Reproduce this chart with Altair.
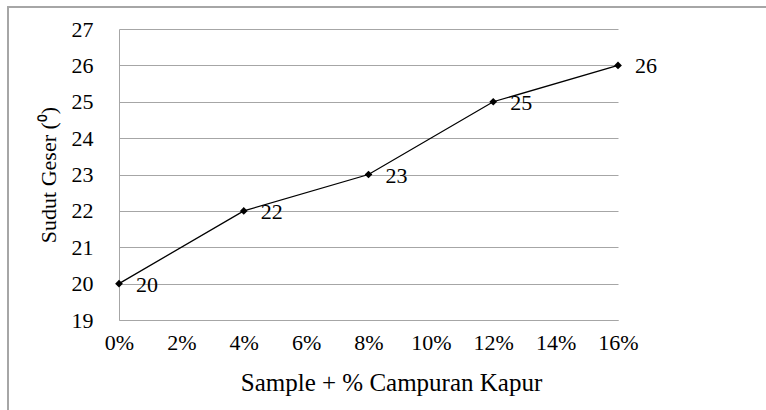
import altair as alt
import pandas as pd

campuran = [0.0, 0.04, 0.08, 0.12, 0.16]
sudut = [20, 22, 23, 25, 26]
x_ticks = [0, 0.02, 0.04, 0.06, 0.08, 0.10, 0.12, 0.14, 0.16]
y_ticks = [19, 20, 21, 22, 23, 24, 25, 26, 27]

df = pd.DataFrame({"x": campuran, "y": sudut, "lbl": [str(v) for v in sudut]})

FONT = "Liberation Serif"
W, H = 499, 291
GRAY = "#a6a6a6"

xs = alt.X("x:Q", scale=alt.Scale(domain=[0, 0.16], nice=False),
           axis=alt.Axis(values=x_ticks, format=".0%", title="Sample + % Campuran Kapur",
                         grid=False, ticks=False, labelPadding=12, titlePadding=17,
                         titleX=272, titleAlign="center",
                         domainColor=GRAY, labelFontSize=22, titleFontSize=25,
                         labelFont=FONT, titleFont=FONT, labelColor="#000", titleColor="#000",
                         titleFontWeight="normal", labelFlush=False, labelOverlap=False))
ys = alt.Y("y:Q", scale=alt.Scale(domain=[19, 27], nice=False),
           axis=alt.Axis(values=y_ticks, title="Sudut Geser (⁰)", grid=True, ticks=False,
                         gridColor=GRAY, domainColor=GRAY, labelPadding=26,
                         titlePadding=11, labelFontSize=22, titleFontSize=22,
                         labelFont=FONT, titleFont=FONT, labelColor="#000", titleColor="#000",
                         titleFontWeight="normal", labelOverlap=False))

base = alt.Chart(df).encode(x=xs, y=ys)

frame = alt.Chart(df).mark_rect(fill="transparent", stroke=GRAY, strokeWidth=1.5, clip=False).encode(
    x=alt.value(-111), x2=alt.value(W + 160), y=alt.value(-22), y2=alt.value(H + 100)
)

line = base.mark_line(color="black", strokeWidth=1.3)
pts = base.mark_point(shape="diamond", filled=True, color="black", size=60, opacity=1)
txt = base.mark_text(align="left", baseline="middle", dx=17, dy=1, fontSize=22,
                     font=FONT, color="black").encode(text="lbl:N")

chart = alt.layer(frame, line, pts, txt).properties(
    width=W, height=H,
    background="white",
    padding={"left": 119, "top": 29, "right": 148, "bottom": 90},
    autosize=alt.AutoSizeParams(type="none"),
).configure_view(stroke="transparent", strokeWidth=0)

chart.save("out.html", embed_options={"renderer": "svg", "actions": False})
